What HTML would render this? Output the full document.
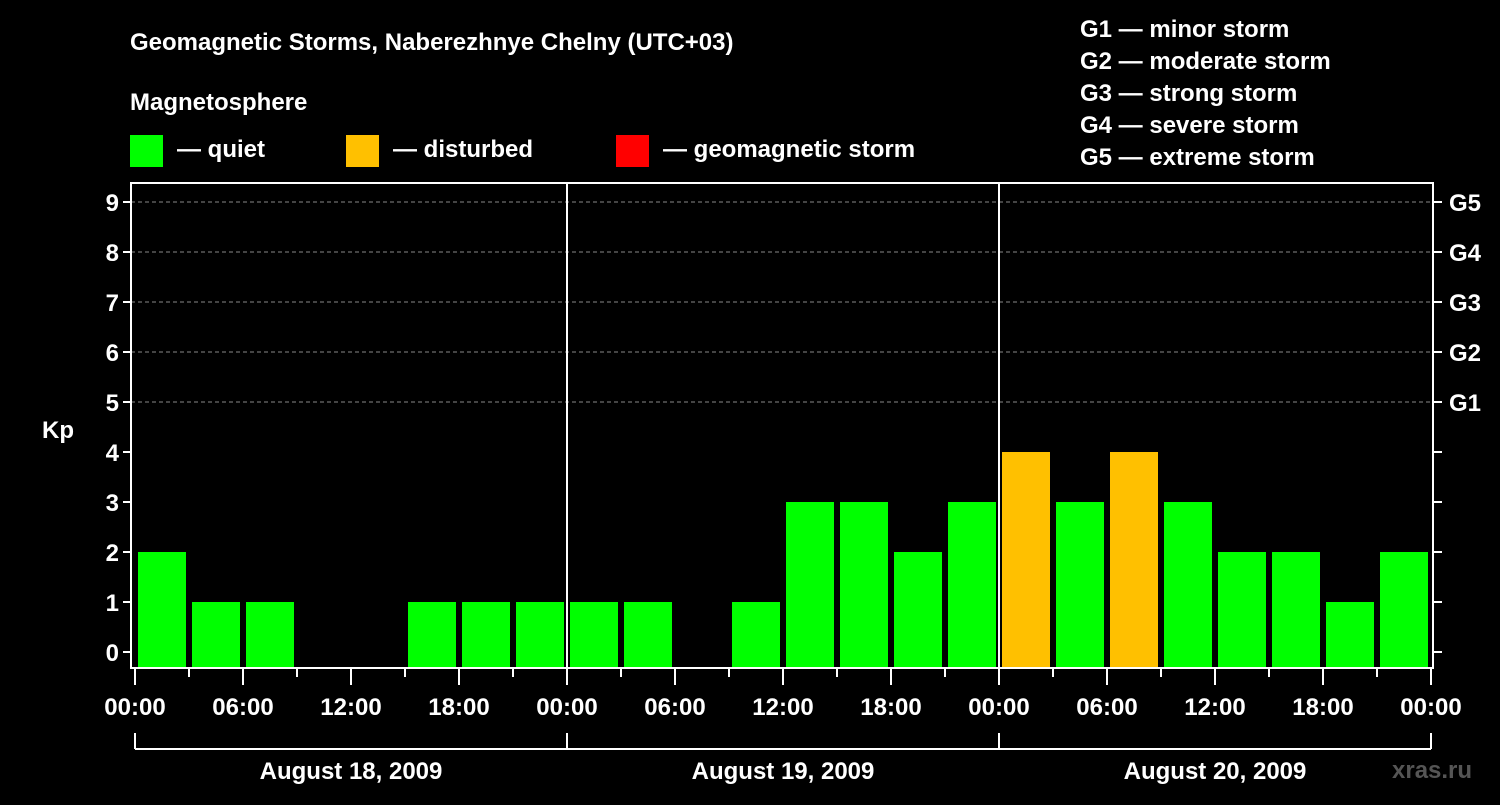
<!DOCTYPE html>
<html><head><meta charset="utf-8"><style>
body{margin:0;background:#000;width:1500px;height:800px;overflow:hidden}
svg text{font-family:"Liberation Sans",sans-serif;font-weight:bold;fill:#fff}
</style></head><body>
<svg id="c" width="1500" height="800">
<text x="130" y="50" font-size="24">Geomagnetic Storms, Naberezhnye Chelny (UTC+03)</text>
<text x="130" y="110" font-size="24">Magnetosphere</text>
<rect x="130" y="135" width="33" height="32" fill="#00ff00"/>
<text x="177" y="157" font-size="24">— quiet</text>
<rect x="346" y="135" width="33" height="32" fill="#ffc000"/>
<text x="393" y="157" font-size="24">— disturbed</text>
<rect x="616" y="135" width="33" height="32" fill="#ff0000"/>
<text x="663" y="157" font-size="24">— geomagnetic storm</text>
<g font-size="24">
<text x="1080" y="37">G1 — minor storm</text>
<text x="1080" y="69">G2 — moderate storm</text>
<text x="1080" y="101">G3 — strong storm</text>
<text x="1080" y="133">G4 — severe storm</text>
<text x="1080" y="165">G5 — extreme storm</text>
</g>
<text x="42" y="438" font-size="24">Kp</text>
<text x="1392" y="778" font-size="24" fill="#555" style="fill:#555">xras.ru</text>
<g id="g"></g>
</svg>
<script>
const days=["August 18, 2009","August 19, 2009","August 20, 2009"];
const kp=[2,1,1,0,0,1,1,1, 1,1,0,1,3,3,2,3, 4,3,4,3,2,2,1,2];
const yTicks=[0,1,2,3,4,5,6,7,8,9];
const gLabels=["G1","G2","G3","G4","G5"];
const hourLabels=["00:00","06:00","12:00","18:00"];
const NS="http://www.w3.org/2000/svg",g=document.getElementById('g');
const X0=135,DAY=432,L=131,R=1433,T=183,B=668;
const x=h=>X0+h*DAY/24, y=v=>652-v*50;
function mk(t,a){const e=document.createElementNS(NS,t);for(const k in a)e.setAttribute(k,a[k]);g.appendChild(e);return e;}
for(let v=5;v<=9;v++){const e=mk('line',{x1:L,x2:R,y1:y(v),y2:y(v),stroke:'#888','stroke-dasharray':'4,3'});

}
kp.forEach((v,i)=>{if(v<=0)return;
const c=v>=5?'#ff0000':v>=4?'#ffc000':'#00ff00';
const e=mk('rect',{x:x(i*3)+3,y:y(v),width:48,height:B-y(v),fill:c});

});
mk('rect',{x:L,y:T,width:R-L,height:B-T,fill:'none',stroke:'#fff','stroke-width':2});
for(let d=1;d<days.length;d++){mk('line',{x1:x(d*24),x2:x(d*24),y1:T,y2:B,stroke:'#fff','stroke-width':2});}
yTicks.forEach(v=>{mk('line',{x1:L-8,x2:L,y1:y(v),y2:y(v),stroke:'#fff','stroke-width':2});
mk('line',{x1:R,x2:R+9,y1:y(v),y2:y(v),stroke:'#fff','stroke-width':2});
const t=mk('text',{x:L-12,y:y(v)+9,'font-size':24,'text-anchor':'end'});t.textContent=v;


if(v>=5){const s=mk('text',{x:1449,y:y(v)+9,'font-size':24});s.textContent=gLabels[v-5];

}});
for(let h=0;h<=days.length*24;h+=3){const long=h%6==0;
mk('line',{x1:x(h),x2:x(h),y1:B,y2:B+(long?17:9),stroke:'#fff','stroke-width':2});
if(long){const t=mk('text',{x:x(h),y:715,'font-size':24,'text-anchor':'middle'});t.textContent=hourLabels[(h/6)%4];

}}
mk('line',{x1:x(0),x2:x(days.length*24),y1:749,y2:749,stroke:'#fff','stroke-width':2});
for(let d=0;d<=days.length;d++)mk('line',{x1:x(d*24),x2:x(d*24),y1:733,y2:749,stroke:'#fff','stroke-width':2});
days.forEach((s,d)=>{const t=mk('text',{x:x(d*24+12),y:779,'font-size':24,'text-anchor':'middle'});t.textContent=s;

});
</script>
</body></html>
